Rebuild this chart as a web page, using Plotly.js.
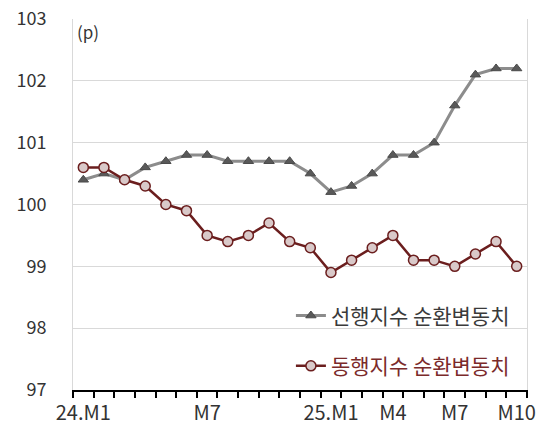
<!DOCTYPE html>
<html><head><meta charset="utf-8">
<script src="https://cdn.plot.ly/plotly-3.0.1.min.js"></script>
<style>body{margin:0;background:#fff}#c{width:542px;height:425px}</style>
</head><body><div id="c"></div>
<script>
const months = ["24.M1","24.M2","24.M3","24.M4","24.M5","24.M6","24.M7","24.M8","24.M9","24.M10","24.M11","24.M12",
                "25.M1","25.M2","25.M3","25.M4","25.M5","25.M6","25.M7","25.M8","25.M9","25.M10"];
const tickLabels = ["24.M1","","","","","","M7","","","","","","25.M1","","","M4","","","M7","","","M10"];
const leading = [100.4,100.5,100.4,100.6,100.7,100.8,100.8,100.7,100.7,100.7,100.7,100.5,
                 100.2,100.3,100.5,100.8,100.8,101.0,101.6,102.1,102.2,102.2];
const coincident = [100.6,100.6,100.4,100.3,100.0,99.9,99.5,99.4,99.5,99.7,99.4,99.3,
                    98.9,99.1,99.3,99.5,99.1,99.1,99.0,99.2,99.4,99.0];
const seriesNames = ["선행지수 순환변동치","동행지수 순환변동치"];
const yTicks = [97,98,99,100,101,102,103];

const font = "'Noto Sans CJK KR', 'Open Sans', sans-serif";
const traces = [
  {x: months, y: leading, type: "scatter", mode: "lines+markers",
   name: '<span style="color:#3a3a3a">' + seriesNames[0] + '</span>',
   legendgroup: "a",
   line: {color: "#8c8c8c", width: 3},
   marker: {symbol: "triangle-up", size: 9, color: "#595959", line: {color: "#4a4a4a", width: 1}}},
  {x: months, y: coincident, type: "scatter", mode: "lines+markers",
   name: '<span style="color:#7b2a2a">' + seriesNames[1] + '</span>',
   legendgroup: "b",
   line: {color: "#6b1e1e", width: 2.5},
   marker: {symbol: "circle", size: 10, color: "#d9c9c9", line: {color: "#6b1e1e", width: 1.5}}}
];
const layout = {
  width: 542, height: 425,
  margin: {l: 73, r: 15, t: 19, b: 35},
  paper_bgcolor: "#fff", plot_bgcolor: "#fff",
  font: {family: font, size: 18, color: "#333"},
  showlegend: true,
  legend: {x: 0.48, y: 0.255, xanchor: "left", yanchor: "top", traceorder: "grouped",
           tracegroupgap: 20, font: {family: font, size: 21, color: "#404040"},
           bgcolor: "rgba(0,0,0,0)"},
  xaxis: {type: "category", range: [-0.5, 21.5], tickmode: "array", tickvals: months, ticktext: tickLabels,
          tickson: "boundaries", ticks: "outside", ticklen: 6, tickwidth: 2, tickcolor: "#000",
          showline: true, linecolor: "#000", linewidth: 2, showgrid: false, zeroline: false,
          tickangle: 0, ticklabelstandoff: 4,
          tickfont: {size: 20, color: "#333"}, fixedrange: true},
  yaxis: {range: [97, 103], tickmode: "array", tickvals: yTicks, showgrid: true, gridcolor: "#d9d9d9",
          gridwidth: 1, zeroline: false, showline: true, linecolor: "#d9d9d9", linewidth: 1, mirror: true,
          ticks: "", ticklabelstandoff: 22, tickfont: {size: 18, color: "#333"}, fixedrange: true},
  annotations: [{text: "(p)", xref: "paper", yref: "paper", x: 0.005, y: 1.0, yshift: 2, xanchor: "left", yanchor: "top",
                 showarrow: false, font: {size: 17, color: "#333", family: font}}]
};
Plotly.newPlot("c", traces, layout, {displayModeBar: false, staticPlot: true});
</script></body></html>
